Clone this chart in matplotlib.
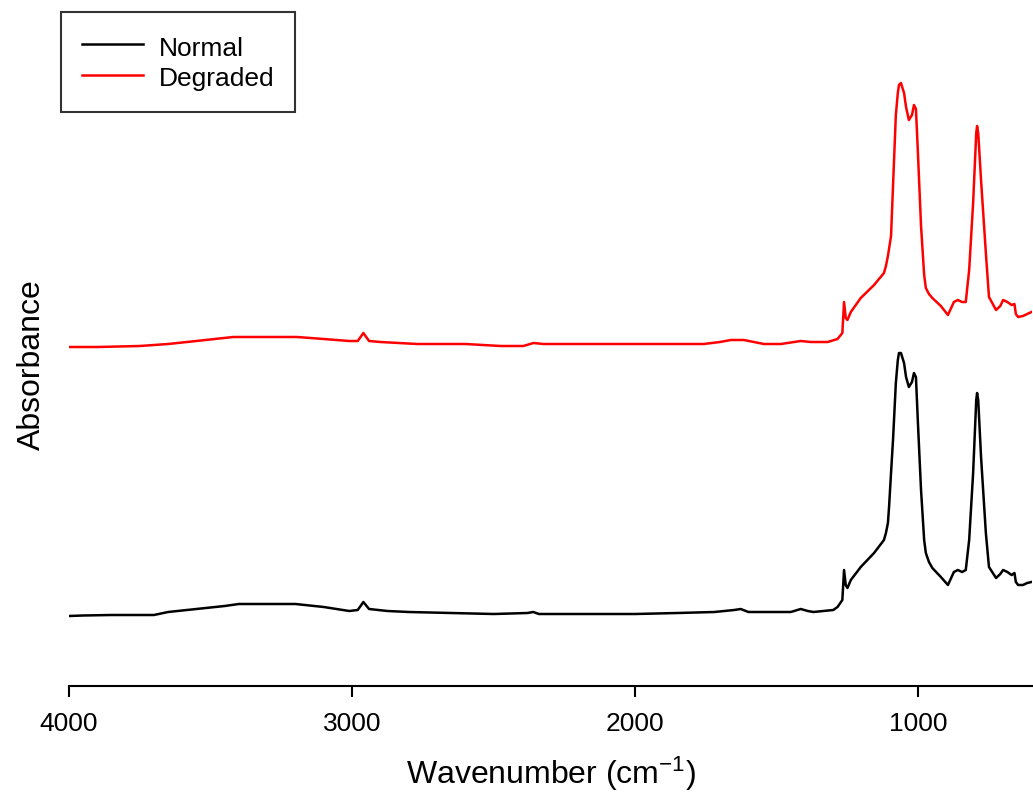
import matplotlib
matplotlib.use("Agg")
import matplotlib.pyplot as plt

plt.rcParams['font.family'] = ['Liberation Sans', 'DejaVu Sans']
plt.rcParams['mathtext.fontset'] = 'custom'
plt.rcParams['mathtext.rm'] = 'Liberation Sans'
plt.rcParams['mathtext.it'] = 'Liberation Sans'

# wavenumber (cm-1) and absorbance (a.u.)
normal_wn = [4000, 3950, 3850, 3750, 3700, 3650, 3550, 3450, 3400, 3300, 3200, 3100,
             3010, 2980, 2960, 2940, 2875, 2800, 2650, 2500, 2380, 2360, 2340, 2200,
             2000, 1850, 1720, 1650, 1627, 1600, 1450, 1415, 1390, 1370, 1300, 1285,
             1268, 1262, 1256, 1250, 1238, 1203, 1156, 1121, 1114, 1107, 1103, 1096,
             1089, 1079, 1072, 1068, 1061, 1050, 1043, 1033, 1022, 1015, 1008, 1001,
             990, 979, 973, 962, 950, 920, 895, 874, 860, 845, 832, 820, 806, 795,
             792, 788, 778, 761, 750, 725, 710, 700, 685, 670, 660, 655, 647, 630,
             615, 600]
normal_abs = [0.140, 0.141, 0.142, 0.142, 0.142, 0.148, 0.154, 0.160, 0.164, 0.164,
              0.164, 0.158, 0.150, 0.152, 0.168, 0.154, 0.150, 0.148, 0.146, 0.144,
              0.146, 0.148, 0.144, 0.144, 0.144, 0.146, 0.148, 0.152, 0.154, 0.148,
              0.148, 0.154, 0.150, 0.148, 0.152, 0.158, 0.172, 0.232, 0.202, 0.196,
              0.212, 0.238, 0.266, 0.292, 0.306, 0.326, 0.358, 0.426, 0.492, 0.606,
              0.652, 0.666, 0.666, 0.646, 0.618, 0.598, 0.608, 0.626, 0.618, 0.526,
              0.392, 0.292, 0.266, 0.248, 0.236, 0.218, 0.202, 0.228, 0.232, 0.228,
              0.232, 0.292, 0.426, 0.572, 0.586, 0.572, 0.458, 0.306, 0.238, 0.216,
              0.224, 0.232, 0.228, 0.222, 0.226, 0.208, 0.202, 0.202, 0.206, 0.208]

degraded_wn = [4000, 3900, 3750, 3650, 3550, 3420, 3300, 3194, 3100, 3010, 2980, 2960,
               2940, 2900, 2770, 2600, 2475, 2395, 2359, 2324, 2100, 1900, 1758, 1700,
               1662, 1616, 1545, 1485, 1415, 1380, 1320, 1285, 1268, 1262, 1256, 1250,
               1238, 1203, 1156, 1121, 1114, 1107, 1096, 1089, 1079, 1072, 1068, 1061,
               1050, 1043, 1033, 1022, 1015, 1008, 1001, 990, 979, 973, 962, 950, 920,
               895, 874, 860, 845, 832, 820, 806, 795, 792, 788, 778, 761, 750, 725,
               710, 700, 685, 670, 660, 655, 647, 630, 615, 600]
degraded_abs = [0.678, 0.678, 0.680, 0.684, 0.690, 0.698, 0.698, 0.698, 0.694, 0.690,
                0.690, 0.706, 0.690, 0.688, 0.684, 0.684, 0.680, 0.680, 0.686, 0.684,
                0.684, 0.684, 0.684, 0.688, 0.692, 0.692, 0.684, 0.684, 0.690, 0.688,
                0.688, 0.694, 0.706, 0.768, 0.736, 0.732, 0.748, 0.776, 0.802, 0.826,
                0.840, 0.860, 0.900, 1.000, 1.142, 1.186, 1.202, 1.206, 1.186, 1.158,
                1.132, 1.142, 1.162, 1.154, 1.066, 0.920, 0.822, 0.796, 0.784, 0.776,
                0.760, 0.742, 0.768, 0.772, 0.768, 0.768, 0.832, 0.966, 1.106, 1.120,
                1.106, 1.012, 0.866, 0.778, 0.752, 0.760, 0.772, 0.768, 0.762, 0.764,
                0.744, 0.738, 0.740, 0.744, 0.748]

fig = plt.figure(figsize=(10.33, 7.99), dpi=100)
ax = fig.add_axes([69 / 1033, 113 / 799, 963 / 1033, 676 / 799])

ax.plot(normal_wn, normal_abs, color='black', lw=1.8, label='Normal')
ax.plot(degraded_wn, degraded_abs, color='#ff0000', lw=1.8, label='Degraded')

ax.set_xlim(4000, 598)
ax.set_ylim(0, 1.352)
ax.set_xticks([4000, 3000, 2000, 1000])
ax.set_yticks([])
for s in ['top', 'right', 'left']:
    ax.spines[s].set_visible(False)
ax.spines['bottom'].set_linewidth(1.5)
ax.tick_params(axis='x', direction='out', length=8, width=1.5, labelsize=19, pad=11)

ax.set_xlabel('Wavenumber (cm$^{-1}$)', fontsize=23, labelpad=13)
ax.set_ylabel('Absorbance', fontsize=23)
ax.yaxis.set_label_coords(-0.0225, 0.475)

leg = ax.legend(loc='upper left', bbox_to_anchor=(61 / 1033, 1 - 12 / 799),
                bbox_transform=fig.transFigure, borderaxespad=0, fontsize=19,
                fancybox=False, handlelength=2.3, handletextpad=0.6,
                handleheight=1.24, labelspacing=0.09, borderpad=0.8)
leg.get_frame().set_edgecolor('black')
leg.get_frame().set_linewidth(1.5)

fig.savefig('out.png', dpi=100)
plt.close(fig)
